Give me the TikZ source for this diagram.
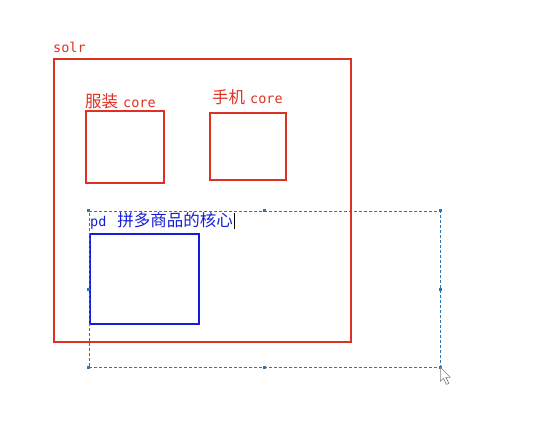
\documentclass[tikz,border=0pt]{standalone}
\usepackage{fontspec}
\setmonofont{DejaVu Sans Mono}
\newfontfamily\cjk{Noto Sans CJK SC}
\definecolor{solrred}{RGB}{220,50,36}
\definecolor{pdblue}{RGB}{20,30,215}
\definecolor{selblue}{RGB}{40,120,180}
\tikzstyle{core} = [draw=solrred, line width=1.6pt, inner sep=0pt]
\tikzstyle{lbl} = [anchor=west, inner sep=0pt, text=solrred, font={\cjk\fontsize{16.5}{16.5}\selectfont}]
\tikzstyle{sel} = [draw=selblue, dashed, dash pattern=on 3pt off 2pt, line width=0.8pt, inner sep=0pt]
\tikzstyle{grip} = [fill=selblue]
\newcommand{\lat}[1]{{\ttfamily\fontsize{13.5}{13.5}\selectfont #1}}
\begin{document}
\begin{tikzpicture}[x=1pt,y=-1pt]
    \useasboundingbox[fill=white] (0,0) rectangle (555,421);
    \node[lbl](solrlbl) at (53,47){\lat{solr}};
    \node[core,minimum width=297pt,minimum height=283pt](solr) at (202.5,200.5){};
    \node[lbl](fzlbl) at (85,101){服装\hspace{5pt}\lat{core}};
    \node[core,minimum width=78pt,minimum height=72pt](fz) at (125,147){};
    \node[lbl](sjlbl) at (212,97){手机\hspace{5pt}\lat{core}};
    \node[core,minimum width=76pt,minimum height=67pt](sj) at (248,146.5){};
    \node[core,draw=pdblue,minimum width=109pt,minimum height=90pt](pd) at (144.5,279){};
    \node[sel,minimum width=351pt,minimum height=156pt](box) at (264.5,289){};
    \node[lbl,text=pdblue](pdlbl) at (90,221){\lat{pd}\hspace{11pt}拼多商品的核心};
    \draw[black,line width=0.6pt]([xshift=1.5pt,yshift=8pt]pdlbl.east)--([xshift=1.5pt,yshift=-8pt]pdlbl.east);
    \foreach \a in {north west,north,north east,east,south east,south,south west,west}
      \fill[grip](box.\a) ++(-1.5,-1.5) rectangle ++(3,3);
    % mouse pointer
    \coordinate(tip) at (box.south east);
    \draw[fill=white,draw=gray,line width=0.6pt,line join=round](tip)--++(0,14)--++(3,-3)--++(3,6)--++(2.5,-1)--++(-3,-6)--++(4.5,0)--cycle;
  \end{tikzpicture}
\end{document}
